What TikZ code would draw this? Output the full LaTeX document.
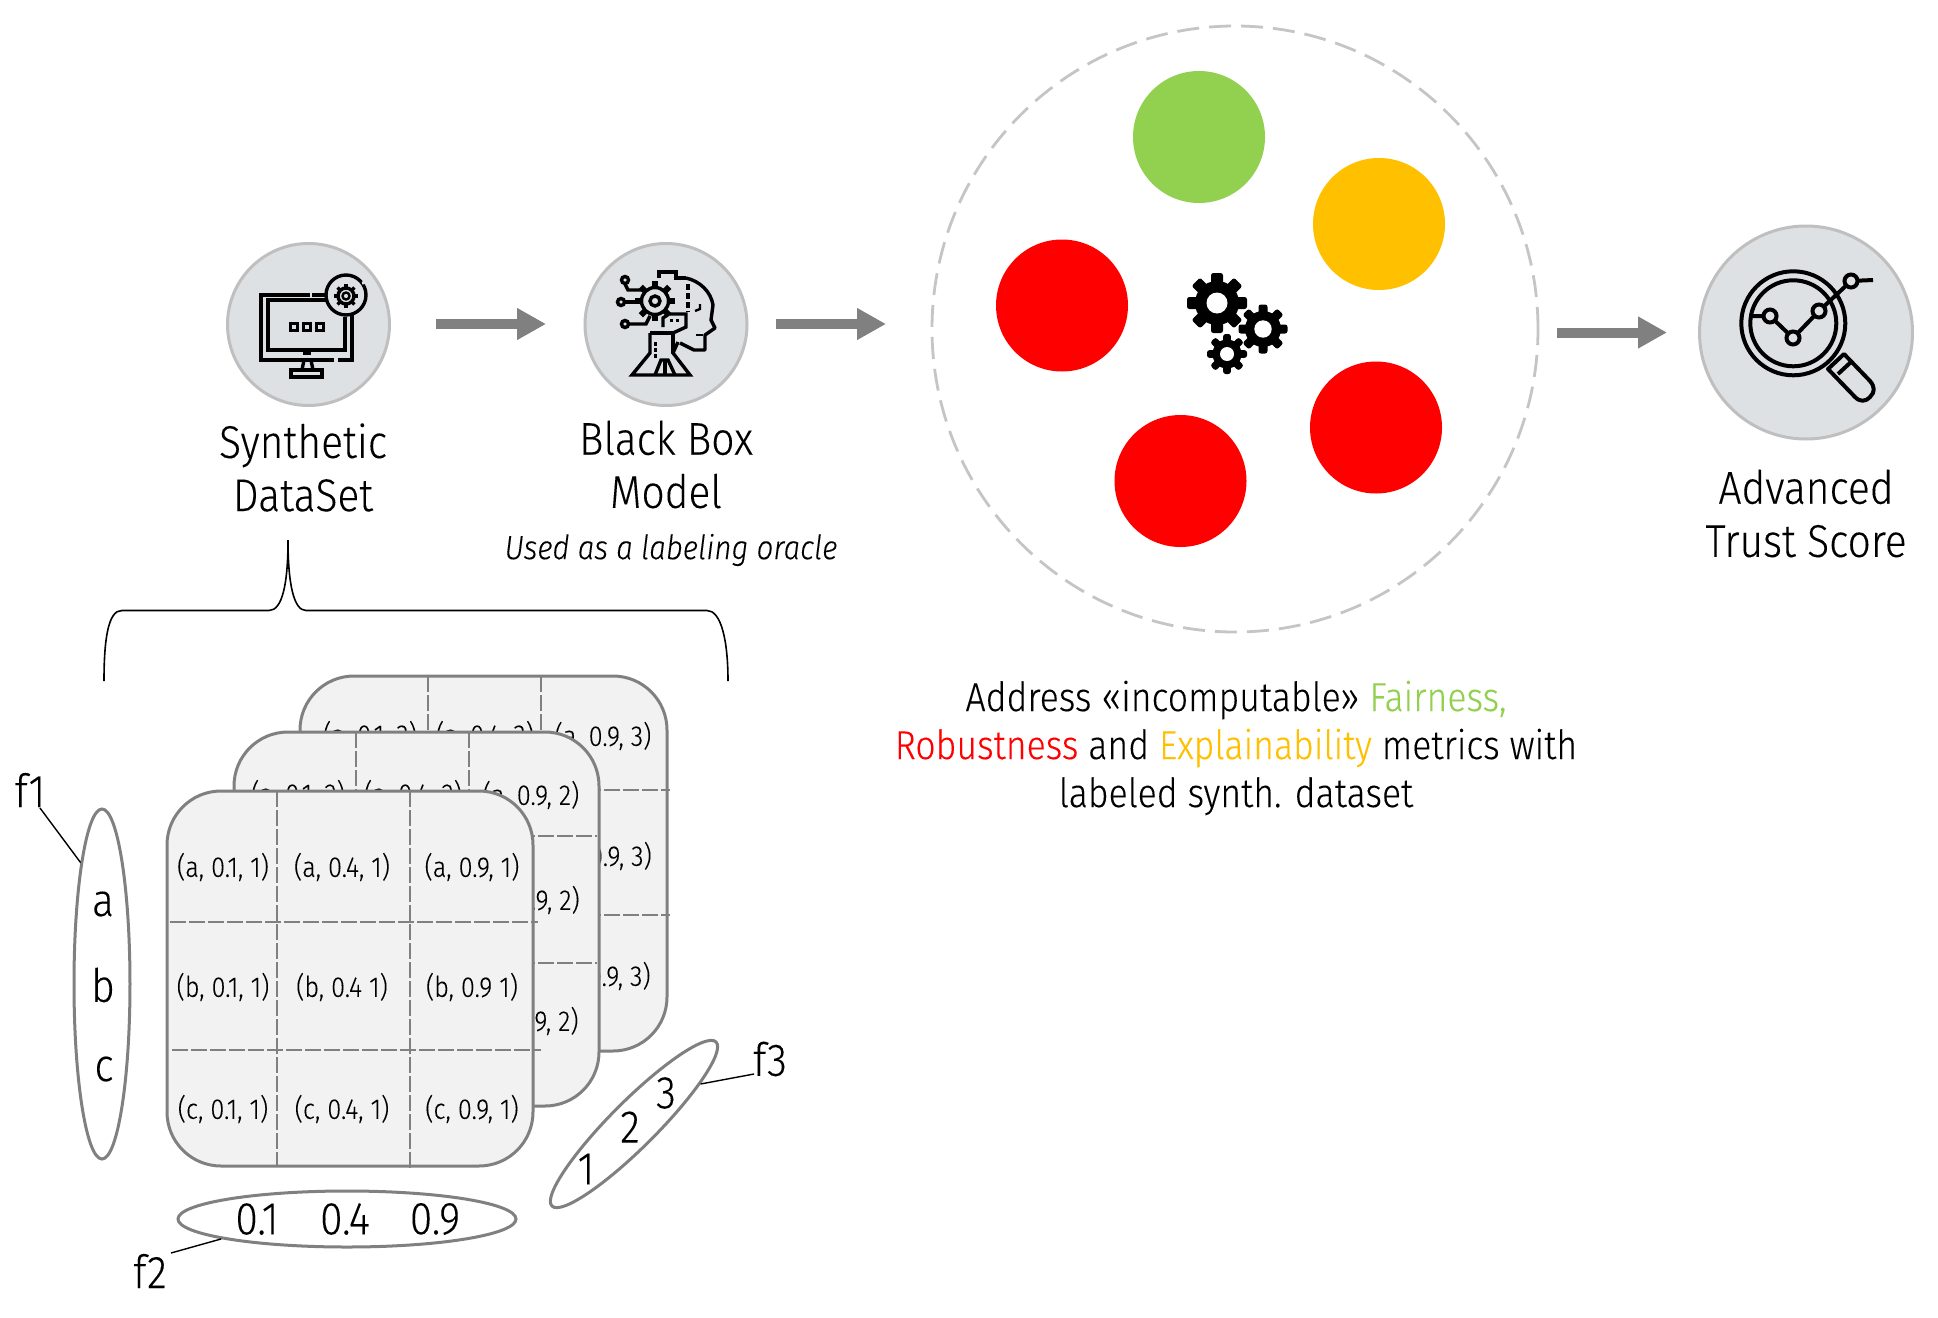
\documentclass[tikz,border=0pt]{standalone}
\usepackage{fontspec}
\setmainfont{Fira Sans}[UprightFont=* Light,ItalicFont=* Light Italic,FakeStretch=0.885,FakeBold=0.12]
\usetikzlibrary{shapes.geometric,arrows.meta,calc}
\definecolor{iconbg}{HTML}{DEE1E4}
\definecolor{iconline}{HTML}{BFBFBF}
\definecolor{dgray}{HTML}{808080}
\definecolor{cardbg}{HTML}{F2F2F2}
\definecolor{gooda}{HTML}{92D050}
\definecolor{gooday}{HTML}{FFC000}
\tikzset{
  iconcircle/.style={circle,draw=iconline,fill=iconbg,line width=1.5pt,inner sep=0pt},
  dot/.style={circle,inner sep=0pt,minimum size=66pt},
  bigarrow/.style={draw=dgray,line width=5pt,-{Triangle[length=14.5pt,width=15pt,fill=dgray]}},
  title/.style={align=center,inner sep=0pt,font=\fontsize{23}{26.6}\selectfont},
  para/.style={align=center,inner sep=0pt,font=\fontsize{20.15}{24}\selectfont},
  cardbox/.style={draw=dgray,fill=cardbg,line width=1.5pt,rounded corners=27pt},
  griddash/.style={draw=dgray,line width=.8pt,dash pattern=on 8pt off 1.5pt},
  cell/.style={inner sep=0pt,font=\fontsize{14.3}{16}\selectfont},
  axisoval/.style={ellipse,draw=dgray,fill=white,line width=1.5pt,inner sep=0pt},
  axistext/.style={inner sep=0pt,font=\fontsize{23}{26}\selectfont},
  leader/.style={draw=black,line width=.7pt},
  icon/.style={draw=black,line width=1.7pt},
}
\newcommand{\cogwheel}[7]{% x y body tooth hole teeth toothhalfwidth
  \begin{scope}[shift={(#1,#2)}]
    \pgfmathsetmacro{\cogstep}{360/#6}
    \foreach \k in {1,...,#6}{
      \fill[black,rotate=\k*\cogstep,rounded corners=1.2pt] (-#7,0) rectangle (#7,#4);
    }
    \fill[black] (0,0) circle[radius=#3];
    \fill[white] (0,0) circle[radius=#5];
  \end{scope}}
\begin{document}
\begin{tikzpicture}[x=.5pt,y=-.5pt]
\useasboundingbox (0,0) rectangle (1938,1317);
\fill[white] (0,0) rectangle (1938,1317);

% --- icon circles
\node[iconcircle,minimum size=81pt] (c1) at (308.5,324.5) {};
\node[iconcircle,minimum size=81pt] (c2) at (666,324.5) {};
\node[iconcircle,minimum size=106.5pt] (c3) at (1806,332.5) {};

% --- arrows
\coordinate (a1s) at (436,324); \coordinate (a1e) at (546,324);
\coordinate (a2s) at (776,324); \coordinate (a2e) at (886,324);
\coordinate (a3s) at (1557,332.5); \coordinate (a3e) at (1667,332.5);
\draw[bigarrow] (a1s) -- (a1e);
\draw[bigarrow] (a2s) -- (a2e);
\draw[bigarrow] (a3s) -- (a3e);

% --- big dashed circle and coloured dots
\node[circle,draw=iconline!90,line width=1.4pt,dash pattern=on 11pt off 5pt,minimum size=303pt,inner sep=0pt] (big) at (1235,329) {};
\node[dot,fill=gooda] (dg) at (1199,137) {};
\node[dot,fill=gooday] (dy) at (1379,224) {};
\node[dot,fill=red] (dr1) at (1062,305.5) {};
\node[dot,fill=red] (dr2) at (1376,427.5) {};
\node[dot,fill=red] (dr3) at (1180.5,481) {};
\cogwheel{1217}{303}{22}{30}{10.5}{8}{6}
\cogwheel{1263}{329}{18}{24.5}{8.7}{8}{4.5}
\cogwheel{1227}{354}{14.5}{20}{7}{8}{3.8}

% --- monitor icon
\begin{scope}
  \draw[icon] (310,295) -- (261,295) -- (261,360) -- (334,360);
  \draw[icon] (338,360) -- (352,360) -- (352,315);
  \draw[icon] (326,300) -- (268,300) -- (268,350) -- (345,350) -- (345,317);
  \draw[icon] (312,295) -- (326,295);
  \foreach \x in {294,307,320}{\draw[icon,line width=1.3pt] (\x-3.5,323.5) rectangle (\x+3.5,330.5);}
  \draw[icon] (304,360) -- (302,370);
  \draw[icon] (311,360) -- (313,370);
  \draw[icon] (291,370) rectangle (322,377);
  \draw[icon] (303,353.5) -- (311,353.5);
  \draw[icon,fill=iconbg] (346,295) circle[radius=20];
  \draw[draw=iconbg,line width=1.5pt] (362,283) -- (368,282);
\end{scope}
\begin{scope}[shift={(346,296)}]
  \foreach \k in {0,45,...,315}{\draw[black,line width=1.6pt,rotate=\k] (0,7) -- (0,12);}
  \draw[icon,fill=iconbg] (0,0) circle[radius=8];
  \draw[black,line width=1.2pt] (0,0) circle[radius=3.5];
\end{scope}

% --- head / black box icon
\begin{scope}
  \draw[icon,line join=round] (686,278) .. controls (700,281) and (711,292) .. (713,305) -- (711,320) -- (715,328) -- (705,335) -- (705,350) -- (694,350) -- (680,343);
  \draw[icon] (659,278) -- (659,272) -- (676,272) -- (676,278) -- (686,278);
  \draw[icon,dash pattern=on 3pt off 1.5pt] (688,284) -- (688,312);
  \draw[icon,line width=1.2pt] (695,311) -- (700,309) -- (700,304);
  \draw[icon,line width=1.2pt] (696,335) -- (703,335);
  \foreach \k in {0,45,...,315}{\draw[black,line width=3pt,rotate around={\k:(655,301)}] (655,288) -- (655,281);}
  \draw[icon,fill=iconbg] (655,301) circle[radius=13.5];
  \draw[icon] (655,301) circle[radius=5];
  \draw[icon] (625,280) circle[radius=3.5];
  \draw[icon] (625,284) -- (628,290) -- (642,290);
  \draw[icon] (621,302) circle[radius=3.5];
  \draw[icon] (625,302) -- (640,302);
  \draw[icon] (625,324) circle[radius=3.5];
  \draw[icon] (629,324) -- (646,324) -- (650,316);
  \draw[icon] (663,327) -- (663,318) -- (669,314) -- (686,314) -- (686,327) -- (673,333);
  \foreach \x in {671,677}{\fill[black] (\x-1.5,319) rectangle (\x+1.5,322);}
  \draw[icon] (650,333) -- (673,333) -- (673,353);
  \draw[icon] (650,333) -- (650,353) -- (632,375) -- (690,375) -- (673,353) -- (678,342);
  \foreach \y in {342,348,354}{\fill[black] (654,\y) rectangle (657,\y+3.5);}
  \draw[icon] (655,375) -- (661,360) -- (668,360) -- (675,375);
  \draw[icon] (665,360) -- (665,375);
\end{scope}

% --- magnifier icon
\begin{scope}
  \draw[icon,line width=2pt] (1793.3,323.3) circle[radius=52];
  \draw[icon,line width=2pt] (1793.3,323.3) circle[radius=43];
  \draw[icon,line width=2pt] (1751,316) -- (1770,316) -- (1793,338) -- (1819,311) -- (1851,281) -- (1873,280);
  \foreach \p in {(1770,316),(1793,338),(1819,311),(1851,281)}{\draw[icon,line width=2pt,fill=iconbg] \p circle[radius=6.5];}
  \draw[icon,line width=2pt,line join=round] (1828,369) -- (1844,354) -- (1870,381) .. controls (1875,387) and (1875,392) .. (1870,397) .. controls (1865,402) and (1860,402) .. (1855,397) -- cycle;
  \draw[icon,line width=2pt] (1838,374) -- (1851,362);
\end{scope}

% --- titles
\node[title] (t1) at (303,467.5) {Synthetic\\DataSet};
\node[title] (t2) at (666,464.5) {Black Box\\Model};
\node[inner sep=0pt,font=\fontsize{16.75}{20}\selectfont\itshape] (t2b) at (671,550) {Used as a labeling oracle};
\node[title] (t3) at (1806,513.5) {Advanced\\Trust Score};
\node[para] (desc) at (1236,748) {Address «incomputable» \textcolor{gooda}{Fairness,}\\ \textcolor{red}{Robustness} and \textcolor{gooday}{Explainability} metrics with\\ labeled synth. dataset};

% --- brace
\coordinate (brtop) at (288,540);
\coordinate (brl) at (104,681);
\coordinate (brr) at (728,681);
\draw[black,line width=.8pt] (brl) .. controls (104,640) and (108,610) .. (122,610.5)
  -- (269,610.5) .. controls (282,610.5) and (288,585) .. (brtop)
  .. controls (288,585) and (294,610.5) .. (306,610.5) -- (707,610.5)
  .. controls (721,610.5) and (728,640) .. (brr);

% --- back card
\draw[cardbox] (300,676) rectangle (667,1051);
\draw[griddash] (428,676) -- (428,1051) (541,676) -- (541,1051);
\draw[griddash] (300,790) -- (670,790) (300,915) -- (670,915);
\node[cell] (b11) at (370,735) {(a, 0.1, 3)};
\node[cell] (b12) at (485,735) {(a, 0.4, 3)};
\node[cell] (b13) at (603,736) {(a, 0.9, 3)};
\node[cell] (b23) at (603,856) {(b, 0.9, 3)};
\node[cell] (b33) at (603,976) {(c, 0.9, 3)};

% --- middle card
\draw[cardbox] (234,732) rectangle (599,1106);
\draw[griddash] (356,732) -- (356,1106) (469,732) -- (469,1106);
\draw[griddash] (234,836) -- (597,836) (234,963) -- (597,963);
\node[cell] (m11) at (298,794) {(a, 0.1, 2)};
\node[cell] (m12) at (413,794) {(a, 0.4, 2)};
\node[cell] (m13) at (531,795) {(a, 0.9, 2)};
\node[cell] (m23) at (531,900) {(b, 0.9, 2)};
\node[cell] (m33) at (531,1021) {(c, 0.9, 2)};

% --- front card
\draw[cardbox] (167,791) rectangle (533,1166);
\draw[griddash] (277,791) -- (277,1166) (410,791) -- (410,1170);
\draw[griddash] (170,922) -- (538,922) (172,1050) -- (541,1050);
\node[cell] (f11) at (223,867) {(a, 0.1, 1)};
\node[cell] (f12) at (342,867) {(a, 0.4, 1)};
\node[cell] (f13) at (472,867) {(a, 0.9, 1)};
\node[cell] (f21) at (223,987) {(b, 0.1, 1)};
\node[cell] (f22) at (342,987) {(b, 0.4 1)};
\node[cell] (f23) at (472,987) {(b, 0.9 1)};
\node[cell] (f31) at (223,1109) {(c, 0.1, 1)};
\node[cell] (f32) at (342,1109) {(c, 0.4, 1)};
\node[cell] (f33) at (472,1109) {(c, 0.9, 1)};

% --- axis ovals
\node[axisoval,minimum width=28pt,minimum height=175pt] (e1) at (102,984) {};
\node[axistext] (va) at (103,904) {a};
\node[axistext] (vb) at (103,985) {b};
\node[axistext] (vc) at (104,1069) {c};
\node[axisoval,minimum width=169pt,minimum height=28pt] (e2) at (347,1219) {};
\node[axistext] (v01) at (257,1219) {0.1};
\node[axistext] (v04) at (345,1219) {0.4};
\node[axistext] (v09) at (435,1219) {0.9};
\node[axisoval,rotate=45,minimum width=116pt,minimum height=23pt] (e3) at (634,1124) {};
\node[axistext] (v1) at (586,1169) {1};
\node[axistext] (v2) at (630,1127) {2};
\node[axistext] (v3) at (666,1093) {3};

\node[axistext] (lf1) at (30,790) {f1};
\node[axistext] (lf2) at (150,1271) {f2};
\node[axistext] (lf3) at (770,1059) {f3};
\coordinate (lf1e) at (40,808);
\coordinate (lf2e) at (171,1253);
\coordinate (lf3e) at (754,1074);
\draw[leader] (lf1e) -- (e1.100);
\draw[leader] (lf2e) -- (e2.189);
\draw[leader] (lf3e) -- (e3.-14);
\end{tikzpicture}
\end{document}
